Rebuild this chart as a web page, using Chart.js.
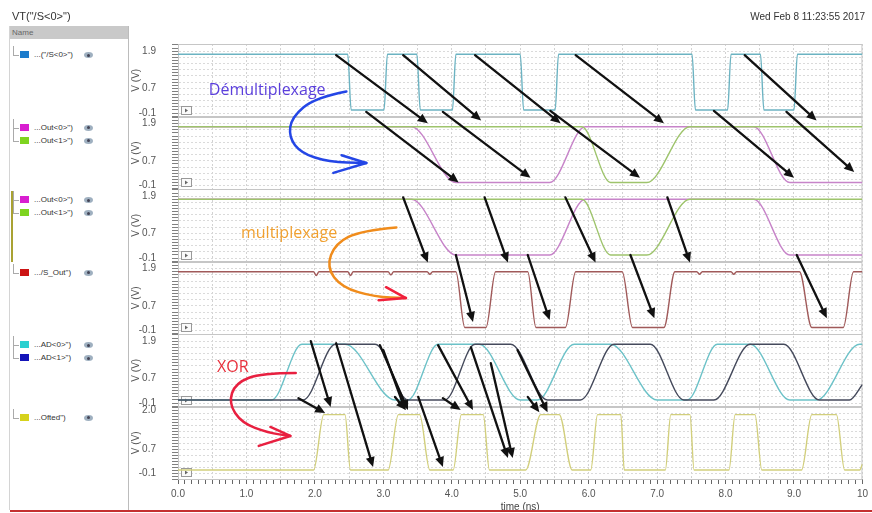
<!DOCTYPE html>
<html>
<head>
<meta charset="utf-8">
<script src="https://cdn.jsdelivr.net/npm/chart.js@4.4.1/dist/chart.umd.min.js"></script>
<style>
  html, body { margin: 0; padding: 0; background: #fff; }
  body { width: 872px; height: 513px; position: relative; overflow: hidden;
         font-family: "Liberation Sans", Arial, sans-serif; color: #333; }
  #chart { position: absolute; left: 0; top: 0; }
  #title { position: absolute; left: 12px; top: 10px; font-size: 11px; }
  #date { position: absolute; right: 7px; top: 11px; font-size: 10px; }
  #panel { position: absolute; left: 9px; top: 26px; width: 118px; height: 484px;
           background: #fff; border-left: 1px solid #d4d4d4; border-right: 1px solid #bcbcbc; }
  #panel .head { height: 13px; background: #c9c9c9; font-size: 8px; color: #666;
                 line-height: 13px; padding-left: 2px; }
  .row { position: absolute; left: 0; width: 110px; height: 12px; font-size: 8px; line-height: 12px; white-space: nowrap; }
  .tree { position: absolute; left: 3px; width: 5px; border-left: 1px solid #aaa; border-bottom: 1px solid #aaa; }
  .sw { position: absolute; left: 10px; top: 2px; width: 9px; height: 7px; }
  .lab { position: absolute; left: 24px; top: 0; }
  .eye { position: absolute; left: 74px; top: 3px; width: 9px; height: 6px; border-radius: 50%; background: #9fb0c0; }
  .eye::after { content: ""; position: absolute; left: 3px; top: 1.5px; width: 3px; height: 3px; border-radius: 50%; background: #445; }
  .group { position: absolute; left: 1px; width: 2px; background: #a9a232; }
  #redline { position: absolute; left: 10px; right: 0; top: 510px; height: 2px; background: #c43030; }
</style>
</head>
<body>
<canvas id="chart" width="872" height="513"></canvas>
<div id="title">VT("/S&lt;0&gt;")</div>
<div id="date">Wed Feb 8 11:23:55 2017</div>
<div id="panel"><div class="head">Name</div></div>
<div id="redline"></div>
<script>
// time axis labels (ns)
const xTickLabels = ['0.0', '1.0', '2.0', '3.0', '4.0', '5.0', '6.0', '7.0', '8.0', '9.0', '10'];

// per-strip voltage labels and ranges
const voltTickLabels = [
  ['1.9', '0.7', '-0.1'], ['1.9', '0.7', '-0.1'], ['1.9', '0.7', '-0.1'],
  ['1.9', '0.7', '-0.1'], ['1.9', '0.7', '-0.1'], ['2.0', '0.7', '-0.1']
];
const stripMin = [-0.21, -0.21, -0.21, -0.21, -0.21, -0.3];
const stripMax = [2.13, 2.13, 2.13, 2.13, 2.13, 2.12];

// waveforms: breakpoints (time in ns, volts)
const sTime = [0, 2.48, 2.53, 3.01, 3.06, 3.49, 3.54, 4.01, 4.06, 5.00, 5.05, 5.51, 5.56, 7.51, 7.56, 8.03, 8.08, 8.51, 8.56, 9.00, 9.05, 10];
const sVolt = [1.8, 1.8, 0, 0, 1.8, 1.8, 0, 0, 1.8, 1.8, 0, 0, 1.8, 1.8, 0, 0, 1.8, 1.8, 0, 0, 1.8, 1.8];

const out0Time = [0, 3.41, 4.06, 5.43, 5.95, 8.41, 8.94, 10];
const out0Volt = [1.8, 1.8, 0, 0, 1.8, 1.8, 0, 0];
const out1Time = [0, 5.90, 6.32, 6.85, 7.48, 10];
const out1Volt = [1.8, 1.8, 0, 0, 1.8, 1.8];

const sOutTime = [0, 1.98, 2.02, 2.06, 2.48, 2.52, 2.56, 3.07, 3.11, 3.15, 3.64, 3.68, 3.72,
  4.06, 4.19, 4.50, 4.64, 5.11, 5.23, 5.66, 5.81, 6.49, 6.64, 7.10, 7.26,
  7.58, 7.62, 7.66, 8.08, 8.12, 8.16, 9.08, 9.26, 9.72, 9.87, 10];
const sOutVolt = [1.8, 1.8, 1.68, 1.8, 1.8, 1.68, 1.8, 1.8, 1.7, 1.8, 1.8, 1.72, 1.8,
  1.8, 0, 0, 1.8, 1.8, 0, 0, 1.8, 1.8, 0, 0, 1.8,
  1.8, 1.72, 1.8, 1.8, 1.72, 1.8, 1.8, 0, 0, 1.8, 1.8];

const ad0Time = [0, 1.37, 1.81, 2.44, 3.17, 3.36, 3.80, 4.40, 5.00, 5.25, 5.79, 6.32, 7.00, 7.44, 7.88, 8.36, 8.94, 9.33, 9.96, 10];
const ad0Volt = [0, 0, 1.8, 1.8, 0, 0, 1.8, 1.8, 0, 0, 1.8, 1.8, 0, 0, 1.8, 1.8, 0, 0, 1.8, 1.8];
const ad1Time = [0, 1.83, 2.30, 2.88, 3.36, 3.90, 4.34, 4.86, 5.40, 5.88, 6.37, 6.90, 7.39, 7.83, 8.36, 8.85, 9.37, 9.81, 10];
const ad1Volt = [0, 0, 1.8, 1.8, 0, 0, 1.8, 1.8, 0, 0, 1.8, 1.8, 0, 0, 1.8, 1.8, 0, 0, 0.5];

const oftedTime = [0, 1.98, 2.13, 2.44, 2.52, 3.07, 3.22, 3.53, 3.68, 4.02, 4.14, 4.46, 4.55,
  5.08, 5.30, 5.57, 5.76, 6.03, 6.13, 6.47, 6.52, 7.12, 7.20, 7.48, 7.54,
  8.05, 8.14, 8.43, 8.53, 9.11, 9.26, 9.62, 9.74, 9.96, 10];
const oftedVolt = [0, 0, 1.85, 1.85, 0, 0, 1.85, 1.85, 0, 0, 1.85, 1.85, 0,
  0, 1.85, 1.85, 0, 0, 1.85, 1.85, 0, 0, 1.85, 1.85, 0,
  0, 1.85, 1.85, 0, 0, 1.85, 1.85, 0, 0, 0.2];

const traces = [
  { label: '...("/S<0>")', strip: 0, t: sTime, v: sVolt, line: '#6cb3c2', swatch: '#1c7ccc', order: 1 },
  { label: '...Out<0>")', strip: 1, t: out0Time, v: out0Volt, line: '#c784c9', swatch: '#d81ed0', order: 1 },
  { label: '...Out<1>")', strip: 1, t: out1Time, v: out1Volt, line: '#9ec46c', swatch: '#7ed420', order: 0 },
  { label: '...Out<0>")', strip: 2, t: out0Time, v: out0Volt, line: '#c784c9', swatch: '#d81ed0', order: 1 },
  { label: '...Out<1>")', strip: 2, t: out1Time, v: out1Volt, line: '#9ec46c', swatch: '#7ed420', order: 0 },
  { label: '.../S_Out")', strip: 3, t: sOutTime, v: sOutVolt, line: '#a05a5a', swatch: '#cc1414', order: 1 },
  { label: '...AD<0>")', strip: 4, t: ad0Time, v: ad0Volt, line: '#6cc2c8', swatch: '#2cd0d0', order: 1 },
  { label: '...AD<1>")', strip: 4, t: ad1Time, v: ad1Volt, line: '#454a5c', swatch: '#1414b8', order: 0 },
  { label: '...Ofted")', strip: 5, t: oftedTime, v: oftedVolt, line: '#d2cf7c', swatch: '#d6d21c', order: 1 }
];

// black arrows: [t0, strip0, v0, t1, strip1, v1]
const arrows = [
  [2.31, 0, 1.77, 3.65, 1, 1.91], [2.75, 0, -0.06, 4.10, 1, 0.0],
  [3.29, 0, 1.77, 4.43, 1, 2.0], [3.87, 0, -0.06, 5.15, 1, 0.15],
  [4.34, 0, 1.77, 5.59, 1, 1.91], [5.44, 0, -0.03, 6.75, 1, 0.15],
  [5.81, 0, 1.77, 7.10, 1, 1.91], [7.83, 0, -0.03, 9.00, 1, 0.15],
  [8.28, 0, 1.77, 9.33, 1, 2.0], [8.89, 0, -0.06, 9.88, 1, 0.34],
  [3.29, 2, 1.86, 3.65, 3, 2.1], [4.06, 2, 0.0, 4.31, 3, 0.18],
  [4.48, 2, 1.86, 4.82, 3, 2.1], [5.11, 2, 0.0, 5.43, 3, 0.24],
  [5.66, 2, 1.86, 6.10, 3, 2.1], [6.61, 2, 0.0, 6.96, 3, 0.30],
  [7.15, 2, 1.86, 7.48, 3, 2.1], [9.04, 2, 0.0, 9.48, 3, 0.30],
  [1.94, 4, 1.9, 2.23, 5, 2.1], [1.76, 4, 0.06, 2.15, 5, 1.9],
  [2.31, 4, 1.83, 2.85, 5, 0.1], [2.95, 4, 1.77, 3.36, 5, 2.0],
  [3.00, 4, 1.61, 3.32, 5, 2.0], [3.17, 4, 0.1, 3.33, 5, 2.0],
  [3.51, 4, 0.1, 3.87, 5, 0.1], [3.80, 4, 1.77, 4.31, 5, 2.0],
  [3.87, 4, 0.06, 4.13, 5, 2.0], [4.28, 4, 1.7, 4.82, 5, 0.4],
  [4.57, 4, 1.19, 4.89, 5, 0.4], [4.96, 4, 1.61, 5.40, 5, 1.93],
  [5.11, 4, 0.1, 5.28, 5, 1.93]
];

// hand-written notes (positions in ns / volts of a strip)
const notes = [
  { text: 'Démultiplexage', color: '#5b3fdc', at: [0.45, 0, 0.64], strip: 1, stroke: '#2446e6', head: '#2446e6',
    curve: [[2.46, 2.94], [2.01, 2.75], [1.66, 2.11], [1.62, 1.46], [1.80, 0.95], [2.20, 0.66], [2.75, 0.63]],
    tips: [[2.39, 0.88], [2.27, 0.31]] },
  { text: 'multiplexage', color: '#f0a030', at: [0.92, 2, 0.71], strip: 3, stroke: '#f08c1c', head: '#f0203c',
    curve: [[3.19, 3.23], [2.68, 3.13], [2.30, 2.72], [2.17, 1.95], [2.39, 1.30], [2.88, 0.98], [3.33, 0.95]],
    tips: [[3.04, 1.30], [2.93, 0.88]] },
  { text: 'XOR', color: '#e8303c', at: [0.57, 4, 1.06], strip: 4, stroke: '#e82040', head: '#e82040',
    curve: [[1.72, 0.87], [1.22, 0.87], [0.84, 0.55], [0.74, -0.10], [0.93, -0.74], [1.32, -1.06], [1.64, -1.16]],
    tips: [[1.35, -0.87], [1.18, -1.48]] }
];

function smooth(ctx, p) {
  ctx.beginPath();
  ctx.moveTo(p[0][0], p[0][1]);
  for (let i = 1; i < p.length - 1; i++) {
    const mx = (p[i][0] + p[i + 1][0]) / 2, my = (p[i][1] + p[i + 1][1]) / 2;
    ctx.quadraticCurveTo(p[i][0], p[i][1], mx, my);
  }
  ctx.lineTo(p[p.length - 1][0], p[p.length - 1][1]);
  ctx.stroke();
}

const overlay = {
  id: 'overlay',
  beforeDatasetsDraw(chart) {
    const ctx = chart.ctx, area = chart.chartArea;
    ctx.save();
    ctx.strokeStyle = '#c6c6c6';
    ctx.lineWidth = 1;
    for (let s = 0; s < 6; s++) {
      const sc = chart.scales['y' + s];
      ctx.strokeRect(area.left + 0.5, Math.round(sc.top) + 0.5, area.width - 1, Math.round(sc.bottom - sc.top) - 1);
      // small expand box at the bottom left of each strip
      const bx = area.left + 3, by = Math.round(sc.bottom) - 11;
      ctx.fillStyle = '#fafafa';
      ctx.fillRect(bx, by, 10, 8);
      ctx.strokeStyle = '#999';
      ctx.strokeRect(bx + 0.5, by + 0.5, 10, 8);
      ctx.fillStyle = '#666';
      ctx.beginPath();
      ctx.moveTo(bx + 4, by + 2.5); ctx.lineTo(bx + 7, by + 4.5); ctx.lineTo(bx + 4, by + 6.5);
      ctx.closePath(); ctx.fill();
      ctx.strokeStyle = '#c6c6c6';
    }
    ctx.restore();
  },
  afterDatasetsDraw(chart) {
    const ctx = chart.ctx, xs = chart.scales.x;
    const pt = (t, s, v) => [xs.getPixelForValue(t), chart.scales['y' + s].getPixelForValue(v)];
    ctx.save();
    ctx.lineCap = 'round';
    // black arrows
    ctx.strokeStyle = '#111';
    ctx.fillStyle = '#111';
    ctx.lineWidth = 2.3;
    arrows.forEach(a => {
      const [x0, y0] = pt(a[0], a[1], a[2]);
      const [x1, y1] = pt(a[3], a[4], a[5]);
      const ang = Math.atan2(y1 - y0, x1 - x0);
      const hx = x1 - 10 * Math.cos(ang), hy = y1 - 10 * Math.sin(ang);
      ctx.beginPath(); ctx.moveTo(x0, y0); ctx.lineTo(hx, hy); ctx.stroke();
      ctx.beginPath();
      ctx.moveTo(x1, y1);
      ctx.lineTo(hx + 4.5 * Math.sin(ang), hy - 4.5 * Math.cos(ang));
      ctx.lineTo(hx - 4.5 * Math.sin(ang), hy + 4.5 * Math.cos(ang));
      ctx.closePath(); ctx.fill();
    });
    // hand-drawn notes
    notes.forEach(n => {
      const [tx, ty] = pt(n.at[0], n.at[1], n.at[2]);
      ctx.font = '16px "Open Sans", "Noto Sans", sans-serif';
      ctx.fillStyle = n.color;
      ctx.textBaseline = 'middle';
      ctx.fillText(n.text, tx, ty);
      ctx.strokeStyle = n.stroke;
      ctx.lineWidth = 2.5;
      smooth(ctx, n.curve.map(p => pt(p[0], n.strip, p[1])));
      const end = n.curve[n.curve.length - 1];
      const [ex, ey] = pt(end[0], n.strip, end[1]);
      ctx.strokeStyle = n.head;
      n.tips.forEach(tp => {
        const [qx, qy] = pt(tp[0], n.strip, tp[1]);
        ctx.beginPath(); ctx.moveTo(qx, qy); ctx.lineTo(ex, ey); ctx.stroke();
      });
    });
    ctx.restore();
  }
};

const scales = {
  x: {
    type: 'linear', position: 'bottom', min: 0, max: 10,
    afterBuildTicks: sc => { sc.ticks = []; for (let k = 0; k <= 100; k++) sc.ticks.push({ value: k / 10 }); },
    afterFit: sc => { sc.height = 34; },
    ticks: {
      autoSkip: false, maxRotation: 0, padding: 4, color: '#555',
      font: { size: 10, family: '"Liberation Sans", Arial, sans-serif' },
      callback: v => { const k = Math.round(v * 10); return k % 10 === 0 ? xTickLabels[k / 10] : ''; }
    },
    grid: {
      color: c => (c.tick && Math.round(c.tick.value * 10) % 5 === 0) ? '#d2d2d2' : 'rgba(0,0,0,0)',
      tickColor: '#666', tickLength: 5
    },
    border: { display: true, color: '#777', dash: [2, 2] },
    title: { display: true, text: 'time (ns)', color: '#444', padding: 0,
             font: { size: 10, family: '"Liberation Sans", Arial, sans-serif' } }
  }
};

for (let s = 0; s < 6; s++) {
  scales['y' + s] = {
    type: 'linear', position: 'left', stack: 'volts', stackWeight: 1, weight: 6 - s,
    min: stripMin[s], max: stripMax[s],
    afterBuildTicks: sc => {
      sc.ticks = [];
      for (let k = Math.ceil(stripMin[s] * 10); k <= Math.floor(stripMax[s] * 10); k++) sc.ticks.push({ value: k / 10 });
    },
    afterFit: sc => { sc.width = 48; },
    ticks: {
      autoSkip: false, padding: 16, color: '#555',
      font: { size: 10, family: '"Liberation Sans", Arial, sans-serif' },
      callback: v => { const str = v.toFixed(1); return voltTickLabels[s].includes(str) ? str : ''; }
    },
    grid: {
      color: c => (c.tick && Math.abs(Math.round(c.tick.value * 10)) % 2 === 1) ? '#dadada' : 'rgba(0,0,0,0)',
      tickColor: '#808080', tickLength: 6
    },
    border: { display: true, color: '#c6c6c6', dash: [2, 2] },
    title: { display: true, text: 'V (V)', color: '#555', padding: 0,
             font: { size: 10, family: '"Liberation Sans", Arial, sans-serif' } }
  };
}

const chart = new Chart(document.getElementById('chart').getContext('2d'), {
  type: 'line',
  data: {
    datasets: traces.map(tr => ({
      label: tr.label,
      data: tr.t.map((t, i) => ({ x: t, y: tr.v[i] })),
      yAxisID: 'y' + tr.strip,
      xAxisID: 'x',
      borderColor: tr.line,
      borderWidth: 1.4,
      pointRadius: 0,
      fill: false,
      cubicInterpolationMode: 'monotone',
      order: tr.order
    }))
  },
  options: {
    responsive: false,
    animation: false,
    parsing: true,
    layout: { padding: { left: 130, top: 44, right: 6, bottom: 0 } },
    plugins: { legend: { display: false }, tooltip: { enabled: false } },
    scales: scales
  },
  plugins: [overlay]
});

// name list on the left, lined up with the strips
const panel = document.getElementById('panel');
const perStrip = {};
traces.forEach(tr => {
  const j = perStrip[tr.strip] = (perStrip[tr.strip] === undefined ? 0 : perStrip[tr.strip] + 1);
  const cy = chart.scales['y' + tr.strip].top + 11 + 13 * j;
  const row = document.createElement('div');
  row.className = 'row';
  row.style.top = (cy - 6 - 26) + 'px';
  row.innerHTML = '<span class="tree"></span><span class="sw"></span><span class="lab"></span><span class="eye"></span>';
  const tree = row.querySelector('.tree');
  tree.style.top = (j === 0 ? -3 : -7) + 'px';
  tree.style.height = (j === 0 ? 9 : 13) + 'px';
  row.querySelector('.sw').style.background = tr.swatch;
  row.querySelector('.lab').textContent = tr.label;
  panel.appendChild(row);
});
// selected group marker beside the second Out pair
const grp = document.createElement('div');
grp.className = 'group';
const gTop = chart.scales.y2.top;
grp.style.top = (gTop + 2 - 26) + 'px';
grp.style.height = '71px';
panel.appendChild(grp);
</script>
</body>
</html>
